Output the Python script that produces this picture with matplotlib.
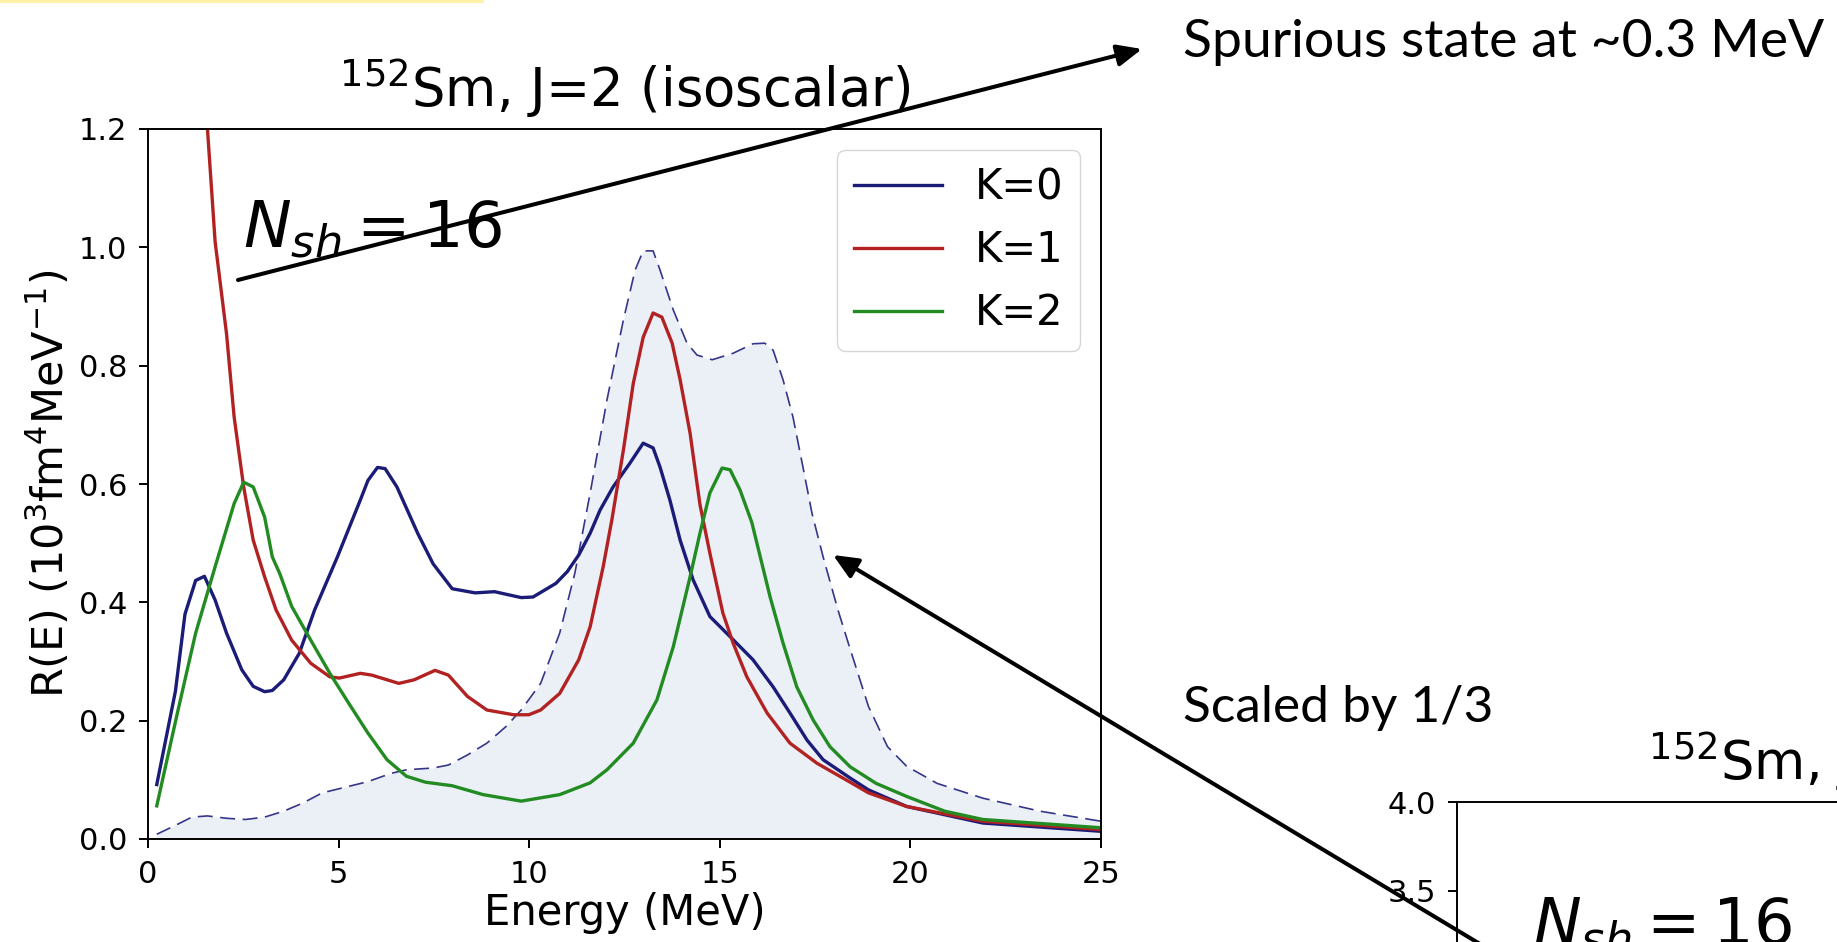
import numpy as np
import matplotlib
matplotlib.use("Agg")
import matplotlib.pyplot as plt
from matplotlib.patches import Rectangle, FancyArrowPatch

W, H = 1837, 942

# ---------------- data ----------------
E_K0 = [0.23, 0.72, 0.97, 1.25, 1.48, 1.76, 2.06, 2.46, 2.76, 3.06, 3.26, 3.56, 3.97, 4.37, 4.97,
        5.57, 5.77, 6.02, 6.22, 6.53, 7.08, 7.48, 7.98, 8.58, 9.09, 9.79, 10.1, 10.7, 11.0, 11.3,
        11.6, 11.86, 12.2, 12.64, 12.99, 13.25, 13.43, 13.69, 13.96, 14.3, 14.74, 15.27, 15.87,
        16.4, 16.84, 17.29, 17.71, 18.42, 18.9, 19.9, 21.9, 25.0]
R_K0 = [0.092, 0.25, 0.38, 0.437, 0.444, 0.404, 0.348, 0.286, 0.258, 0.249, 0.251, 0.269, 0.314,
        0.387, 0.477, 0.573, 0.606, 0.628, 0.626, 0.595, 0.516, 0.465, 0.423, 0.416, 0.418, 0.408,
        0.409, 0.432, 0.452, 0.48, 0.517, 0.556, 0.595, 0.635, 0.669, 0.661, 0.629, 0.573, 0.505,
        0.438, 0.376, 0.342, 0.303, 0.257, 0.213, 0.167, 0.134, 0.103, 0.083, 0.055, 0.027, 0.013]

E_K1 = [0.23, 0.6, 1.0, 1.56, 1.76, 2.06, 2.26, 2.51, 2.76, 3.06, 3.36, 3.77, 4.27, 4.77, 5.02,
        5.57, 5.87, 6.58, 6.98, 7.53, 7.88, 8.38, 8.89, 9.59, 9.99, 10.3, 10.8, 11.3, 11.6, 11.94,
        12.17, 12.47, 12.73, 12.99, 13.25, 13.48, 13.75, 13.96, 14.22, 14.48, 14.74, 15.08, 15.35,
        15.71, 16.24, 16.84, 17.55, 18.42, 18.9, 19.9, 21.9, 25.0]
R_K1 = [9.0, 4.0, 2.0, 1.2, 1.01, 0.854, 0.713, 0.595, 0.505, 0.443, 0.387, 0.336, 0.297, 0.274,
        0.272, 0.28, 0.277, 0.263, 0.269, 0.285, 0.277, 0.241, 0.218, 0.21, 0.21, 0.218, 0.246,
        0.303, 0.359, 0.46, 0.54, 0.657, 0.77, 0.848, 0.889, 0.882, 0.838, 0.776, 0.686, 0.565,
        0.483, 0.382, 0.331, 0.274, 0.213, 0.162, 0.128, 0.096, 0.078, 0.055, 0.03, 0.016]

E_K2 = [0.23, 0.75, 1.25, 1.76, 2.26, 2.51, 2.76, 3.06, 3.26, 3.46, 3.77, 4.27, 4.77, 5.27, 5.77,
        6.27, 6.78, 7.28, 7.98, 8.79, 9.79, 10.8, 11.6, 12.04, 12.73, 13.35, 13.78, 14.22, 14.48,
        14.74, 15.06, 15.27, 15.53, 15.84, 16.32, 16.66, 17.02, 17.45, 17.89, 18.42, 19.1, 19.9,
        20.9, 21.9, 25.0]
R_K2 = [0.056, 0.207, 0.348, 0.46, 0.567, 0.603, 0.595, 0.544, 0.477, 0.448, 0.393, 0.336, 0.28,
        0.229, 0.179, 0.134, 0.106, 0.096, 0.09, 0.075, 0.064, 0.075, 0.095, 0.117, 0.162, 0.235,
        0.325, 0.443, 0.517, 0.585, 0.627, 0.624, 0.59, 0.535, 0.409, 0.331, 0.257, 0.201, 0.156,
        0.122, 0.094, 0.072, 0.047, 0.033, 0.019]

E_tot = [0.23, 0.75, 1.15, 1.56, 2.06, 2.56, 3.06, 3.56, 4.07, 4.57, 5.27, 5.77, 6.38, 6.78, 7.48,
         7.88, 8.38, 8.89, 9.39, 9.79, 10.3, 10.8, 11.2, 11.6, 12.04, 12.47, 12.78, 12.99, 13.25,
         13.43, 13.78, 14.14, 14.4, 14.8, 15.35, 15.87, 16.18, 16.4, 16.66, 16.92, 17.18, 17.42,
         17.71, 18.1, 18.4, 18.9, 19.4, 19.9, 20.7, 21.9, 23.4, 25.0]
R_tot = [0.008, 0.024, 0.037, 0.039, 0.035, 0.033, 0.037, 0.047, 0.061, 0.078, 0.089, 0.097,
         0.111, 0.117, 0.12, 0.125, 0.142, 0.162, 0.19, 0.218, 0.263, 0.348, 0.45, 0.585, 0.742,
         0.877, 0.962, 0.994, 0.994, 0.962, 0.894, 0.838, 0.818, 0.81, 0.821, 0.837, 0.838, 0.826,
         0.776, 0.713, 0.629, 0.55, 0.477, 0.387, 0.325, 0.224, 0.156, 0.123, 0.094, 0.069, 0.047,
         0.030]

labels = ["K=0", "K=1", "K=2"]
title = r"$^{152}$Sm, J=2 (isoscalar)"
nsh_text = r"$N_{sh} = 16$"
xticks_main = [0, 5, 10, 15, 20, 25]
yticks_main = [0.0, 0.2, 0.4, 0.6, 0.8, 1.0, 1.2]
yticks_second = [0.0, 0.5, 1.0, 1.5, 2.0, 2.5, 3.0, 3.5, 4.0]

# ---------------- figure ----------------
plt.rcParams['font.family'] = ['DejaVu Sans']
fig = plt.figure(figsize=(W / 100, H / 100), dpi=100)

def px_axes(left, top, width, height):
    return [left / W, 1 - (top + height) / H, width / W, height / H]

c0, c1, c2 = '#1b1b78', '#b22222', '#228b22'
TICK_FS, LABEL_FS, TITLE_FS, NSH_FS = 22, 30, 38, 46

ax = fig.add_axes(px_axes(148, 129, 953, 710))
ax.fill_between(E_tot, 0, R_tot, color='lightsteelblue', alpha=0.25, lw=0)
ax.plot(E_tot, R_tot, color='#35358a', lw=1.2, dashes=(9, 4.5))
ax.plot(E_K0, R_K0, color=c0, lw=2.4, label=labels[0])
ax.plot(E_K1, R_K1, color=c1, lw=2.4, label=labels[1])
ax.plot(E_K2, R_K2, color=c2, lw=2.4, label=labels[2])
ax.set_xlim(0, 25)
ax.set_ylim(0, 1.2)
ax.set_xticks(xticks_main)
ax.set_yticks(yticks_main)
ax.set_xticklabels([str(t) for t in xticks_main])
ax.set_yticklabels([f"{t:.1f}" for t in yticks_main])
ax.tick_params(labelsize=TICK_FS, length=6.5, width=1.4, pad=8.5)
for s in ax.spines.values():
    s.set_linewidth(1.4)
ax.set_xlabel("Energy (MeV)", fontsize=LABEL_FS, labelpad=2)
ax.set_ylabel(r"R(E) (10$^3$fm$^4$MeV$^{-1}$)", fontsize=31, labelpad=4)
ax.set_title(title, fontsize=TITLE_FS, pad=16)
ax.text(2.5, 1.0, nsh_text, fontsize=NSH_FS)
leg = ax.legend(loc='upper right', fontsize=LABEL_FS, handlelength=2.1, handletextpad=0.8,
                labelspacing=0.5, borderaxespad=0.5)

# second (cropped) panel
ax2 = fig.add_axes(px_axes(1457, 802, 953, 710))
ax2.set_xlim(0, 25)
ax2.set_ylim(0, 4.0)
ax2.set_yticks(yticks_second)
ax2.set_yticklabels([f"{t:.1f}" for t in yticks_second])
ax2.tick_params(labelsize=TICK_FS, length=6.5, width=1.4, pad=8.5)
for s in ax2.spines.values():
    s.set_linewidth(1.4)
ax2.set_title(title, fontsize=TITLE_FS, pad=16)
ax2.text(2.0, 3.2, nsh_text, fontsize=NSH_FS)

# slide overlay elements
fig.add_artist(Rectangle((0, 1 - 3 / H), 484 / W, 3 / H, transform=fig.transFigure,
                         color='#fff1a8', lw=0))

slide_font = ['Lato', 'DejaVu Sans']
fig.text(1183 / W, 1 - 57 / H, "Spurious state at ~0.3 MeV", fontsize=38.5,
         family=slide_font, va='baseline', ha='left')
fig.text(1183 / W, 1 - 722 / H, "Scaled by 1/3", fontsize=37,
         family=slide_font, va='baseline', ha='left')

arrow_kw = dict(arrowstyle='-|>,head_length=0.5,head_width=0.22', color='black',
                lw=2.9, mutation_scale=30, shrinkA=0, shrinkB=0)
fig.add_artist(FancyArrowPatch((238, H - 280), (1142, H - 49), transform=None,
                               zorder=10, **arrow_kw))
fig.add_artist(FancyArrowPatch((1490, H - 950), (833, H - 555), transform=None,
                               zorder=10, **arrow_kw))

fig.savefig("out.png", dpi=100)
